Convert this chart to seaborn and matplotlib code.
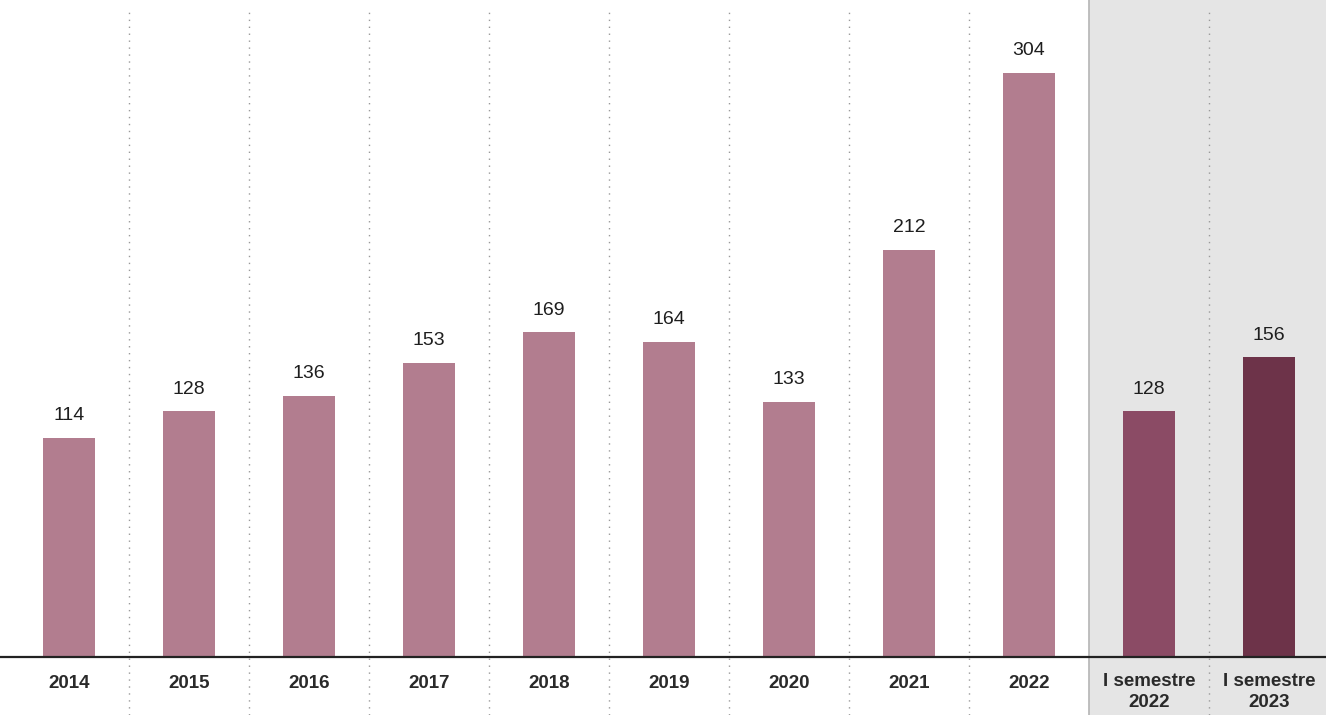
import matplotlib
matplotlib.use("Agg")
import matplotlib.pyplot as plt
import seaborn as sns
import pandas as pd

# data
categories = ["2014", "2015", "2016", "2017", "2018", "2019", "2020", "2021", "2022",
              "I semestre\n2022", "I semestre\n2023"]
values = [114, 128, 136, 153, 169, 164, 133, 212, 304, 128, 156]
bar_colors = ["#b27d8f"] * 9 + ["#8b4b65", "#6d3349"]

sns.set_theme(style="white")
plt.rcParams['font.family'] = ['Liberation Sans', 'DejaVu Sans']

df = pd.DataFrame({"cat": categories, "val": values})

fig = plt.figure(figsize=(13.26, 7.15), dpi=100)
fig.patch.set_facecolor("white")
# axes spans whole width, baseline at y=657px
base_px = 657
px_per_unit = 1.921
ax = fig.add_axes([0, 1 - base_px / 715, 1, base_px / 715])
ax.set_facecolor("none")

sns.barplot(data=df, x="cat", y="val", hue="cat", palette=bar_colors,
            legend=False, width=0.43, saturation=1, linewidth=0, ax=ax, zorder=3)

ax.set_xlim(-0.575, 10.475)
ax.set_ylim(0, base_px / px_per_unit)

# grey band for semester data
below = -(715 - base_px) / base_px
ax.axvspan(8.5, 11, ymin=below, ymax=1.0, color="#e5e5e5", zorder=0, clip_on=False)
ax.axvline(8.5, ymin=below, ymax=1.0, color="#b5b5b5", lw=1.2, zorder=1, clip_on=False)

# dotted separators
for i in range(len(categories) - 1):
    if i == 8:
        continue
    ax.axvline(i + 0.5, ymin=below, ymax=0.985, color="#9a9a9a", lw=1.0,
               ls=(0, (1, 4)), zorder=1, clip_on=False)

# baseline
ax.axhline(0, color="#222222", lw=1.6, zorder=4, clip_on=False)

# value labels
for i, v in enumerate(values):
    ax.text(i, v + 11.5, str(v), ha="center", va="center", fontsize=14, color="#1e1e1e")

# category labels
ax.set_xticks([])
ax.set_yticks([])
ax.set_xlabel("")
ax.set_ylabel("")
for i, c in enumerate(categories):
    if "\n" in c:
        ax.text(i, -16 / px_per_unit, c, ha="center", va="top", fontsize=13.5,
                fontweight="bold", color="#2a2a2a", linespacing=1.3)
    else:
        ax.text(i, -26 / px_per_unit, c, ha="center", va="center", fontsize=13.5,
                fontweight="bold", color="#2a2a2a")

sns.despine(ax=ax, left=True, bottom=True, top=True, right=True)

fig.savefig("out.png", dpi=100)
